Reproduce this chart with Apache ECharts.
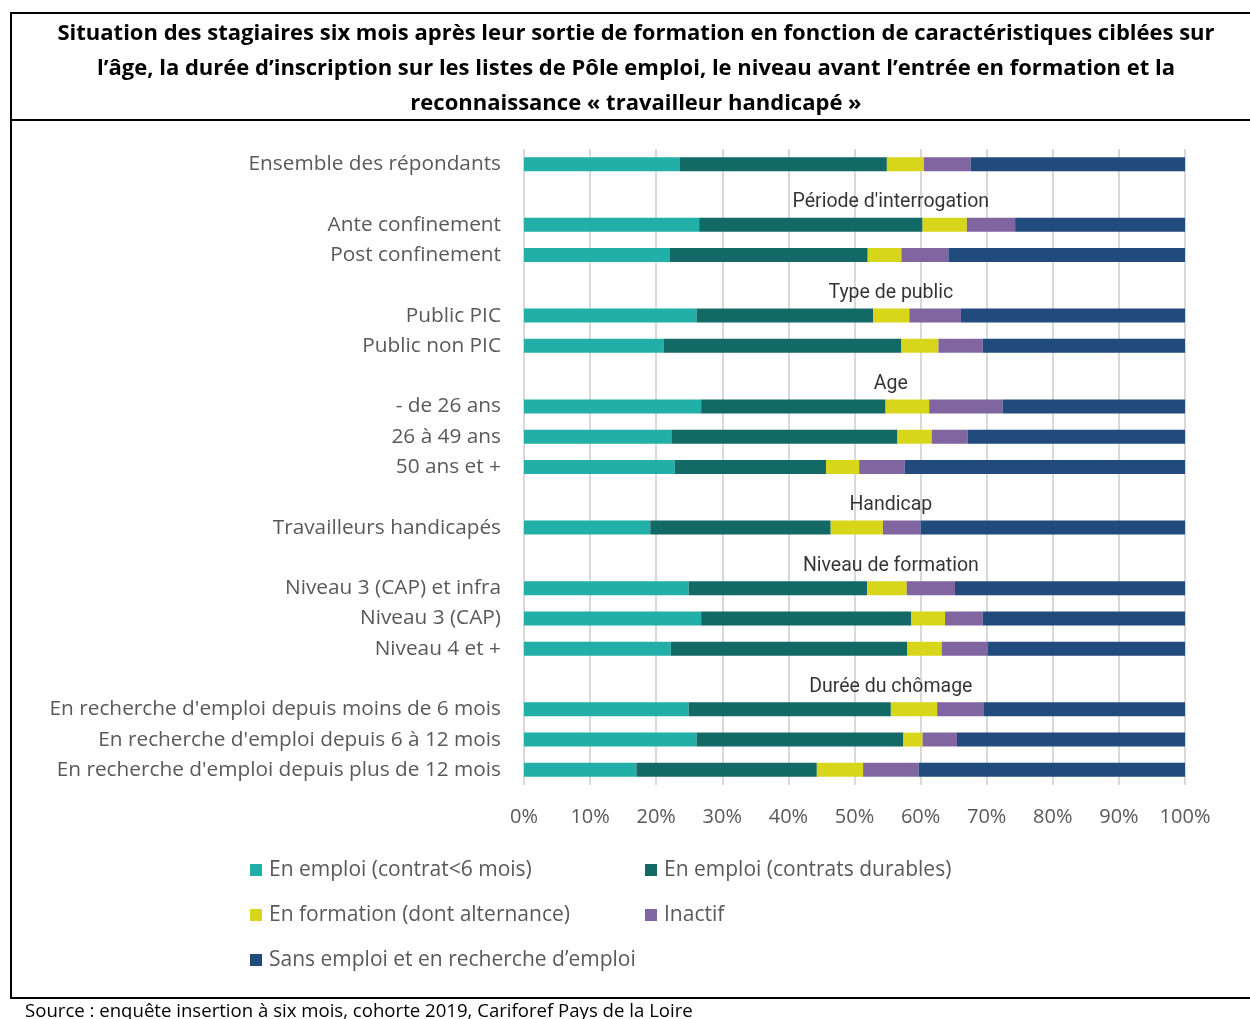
<!DOCTYPE html>
<html>
<head>
<meta charset="utf-8">
<script src="https://cdn.jsdelivr.net/npm/echarts@6/dist/echarts.min.js"></script>
<style>
html,body{margin:0;padding:0;background:#fff;}
#chart{width:1250px;height:1019px;}
</style>
</head>
<body>
<div id="chart"></div>
<script>
// ---- Data ----
const categories = [
  'Ensemble des répondants',
  "Période d'interrogation",
  'Ante confinement',
  'Post confinement',
  'Type de public',
  'Public PIC',
  'Public non PIC',
  'Age',
  '- de 26 ans',
  '26 à 49 ans',
  '50 ans et +',
  'Handicap',
  'Travailleurs handicapés',
  'Niveau de formation',
  'Niveau 3 (CAP) et infra',
  'Niveau 3 (CAP)',
  'Niveau 4 et +',
  'Durée du chômage',
  "En recherche d'emploi depuis moins de 6 mois",
  "En recherche d'emploi depuis 6 à 12 mois",
  "En recherche d'emploi depuis plus de 12 mois"
];
const headers = ["Période d'interrogation", 'Type de public', 'Age', 'Handicap', 'Niveau de formation', 'Durée du chômage'];

const seriesNames = [
  'En emploi (contrat<6 mois)',
  'En emploi (contrats durables)',
  'En formation (dont alternance)',
  'Inactif',
  'Sans emploi et en recherche d’emploi'
];
// values in %, null for section-header rows
const emploiCourt    = [23.6, null, 26.5, 22.0, null, 26.1, 21.1, null, 26.8, 22.3, 22.8, null, 19.1, null, 24.9, 26.8, 22.2, null, 24.9, 26.1, 17.0];
const emploiDurable  = [31.3, null, 33.8, 30.0, null, 26.7, 36.0, null, 27.9, 34.2, 22.9, null, 27.3, null, 27.0, 31.8, 35.8, null, 30.6, 31.3, 27.3];
const formation      = [5.6,  null, 6.7,  5.1,  null, 5.5,  5.6,  null, 6.6,  5.2,  5.0,  null, 7.9,  null, 6.0,  5.1,  5.2,  null, 7.0,  2.9,  7.0];
const inactif        = [7.1,  null, 7.3,  7.1,  null, 7.8,  6.7,  null, 11.1, 5.4,  6.9,  null, 5.7,  null, 7.3,  5.7,  7.0,  null, 7.0,  5.2,  8.4];
const sansEmploi     = [32.4, null, 25.7, 35.8, null, 33.9, 30.6, null, 27.6, 32.9, 42.4, null, 40.0, null, 34.8, 30.6, 29.8, null, 30.5, 34.5, 40.3];
const seriesValues = [emploiCourt, emploiDurable, formation, inactif, sansEmploi];
const colors = ['#21AFA8', '#136966', '#D7D61A', '#8165A1', '#214A7D'];
const headerX = 55.5;

const titleText = 'Situation des stagiaires six mois après leur sortie de formation en fonction de caractéristiques ciblées sur\nl’âge, la durée d’inscription sur les listes de Pôle emploi, le niveau avant l’entrée en formation et la\nreconnaissance « travailleur handicapé »';
const sourceText = 'Source : enquête insertion à six mois, cohorte 2019, Cariforef Pays de la Loire';

// ---- Chart ----
const chart = echarts.init(document.getElementById('chart'), null, {renderer: 'canvas'});
const FONT = 'Open Sans';
const series = seriesNames.map((n, i) => ({
  name: n,
  type: 'bar',
  stack: 'total',
  barWidth: 14,
  itemStyle: {color: colors[i]},
  emphasis: {disabled: true},
  data: seriesValues[i]
}));
series.push({
  name: 'headers',
  type: 'scatter',
  symbolSize: 0,
  silent: true,
  data: headers.map(h => [headerX, h, h]),
  label: {
    show: true,
    position: 'inside',
    offset: [0, 8],
    formatter: p => p.data[2],
    color: '#000',
    fontFamily: 'Roboto',
    fontSize: 19.5
  }
});

const line = (x1, y1, x2, y2) => ({
  type: 'line', shape: {x1, y1, x2, y2}, style: {stroke: '#000', lineWidth: 2}, silent: true
});

const legendText = {color: '#595959', fontSize: 21, fontFamily: FONT, lineHeight: 24, padding: [0, 0, 0, 2]};

chart.setOption({
  animation: false,
  textStyle: {fontFamily: FONT},
  grid: {left: 524, width: 661, top: 149, height: 636, containLabel: false},
  xAxis: {
    type: 'value', min: 0, max: 100, interval: 10,
    axisLabel: {formatter: '{value}%', color: '#595959', fontSize: 20, fontFamily: FONT, margin: 22},
    axisLine: {show: false}, axisTick: {show: false},
    splitLine: {show: true, lineStyle: {color: '#D9D9D9', width: 2}}
  },
  yAxis: {
    type: 'category', inverse: true, data: categories,
    axisLine: {show: false}, axisTick: {show: false},
    axisLabel: {
      color: '#595959', fontSize: 20.8, fontFamily: FONT, margin: 23,
      formatter: v => headers.includes(v) ? '' : v
    }
  },
  legend: [
    {
      orient: 'vertical', left: 250, top: 858, padding: 0,
      data: [seriesNames[0], seriesNames[2], seriesNames[4]],
      itemWidth: 12, itemHeight: 12, itemGap: 21, icon: 'rect',
      textStyle: legendText
    },
    {
      orient: 'vertical', left: 645, top: 858, padding: 0,
      data: [seriesNames[1], seriesNames[3]],
      itemWidth: 12, itemHeight: 12, itemGap: 21, icon: 'rect',
      textStyle: legendText
    }
  ],
  graphic: [
    line(11, 13, 1250, 13),
    line(11, 12, 11, 999),
    line(11, 120, 1250, 120),
    line(11, 998, 1250, 998),
    {
      type: 'text', x: 636, y: 16, silent: true,
      style: {text: titleText, fill: '#000', font: 'bold 22px "Open Sans"', lineHeight: 35, align: 'center', textAlign: 'center'}
    },
    {
      type: 'text', left: 25, top: 1002, silent: true,
      style: {text: sourceText, fill: '#000', font: '18.6px "Open Sans"'}
    }
  ],
  series: series
});
</script>
</body>
</html>
